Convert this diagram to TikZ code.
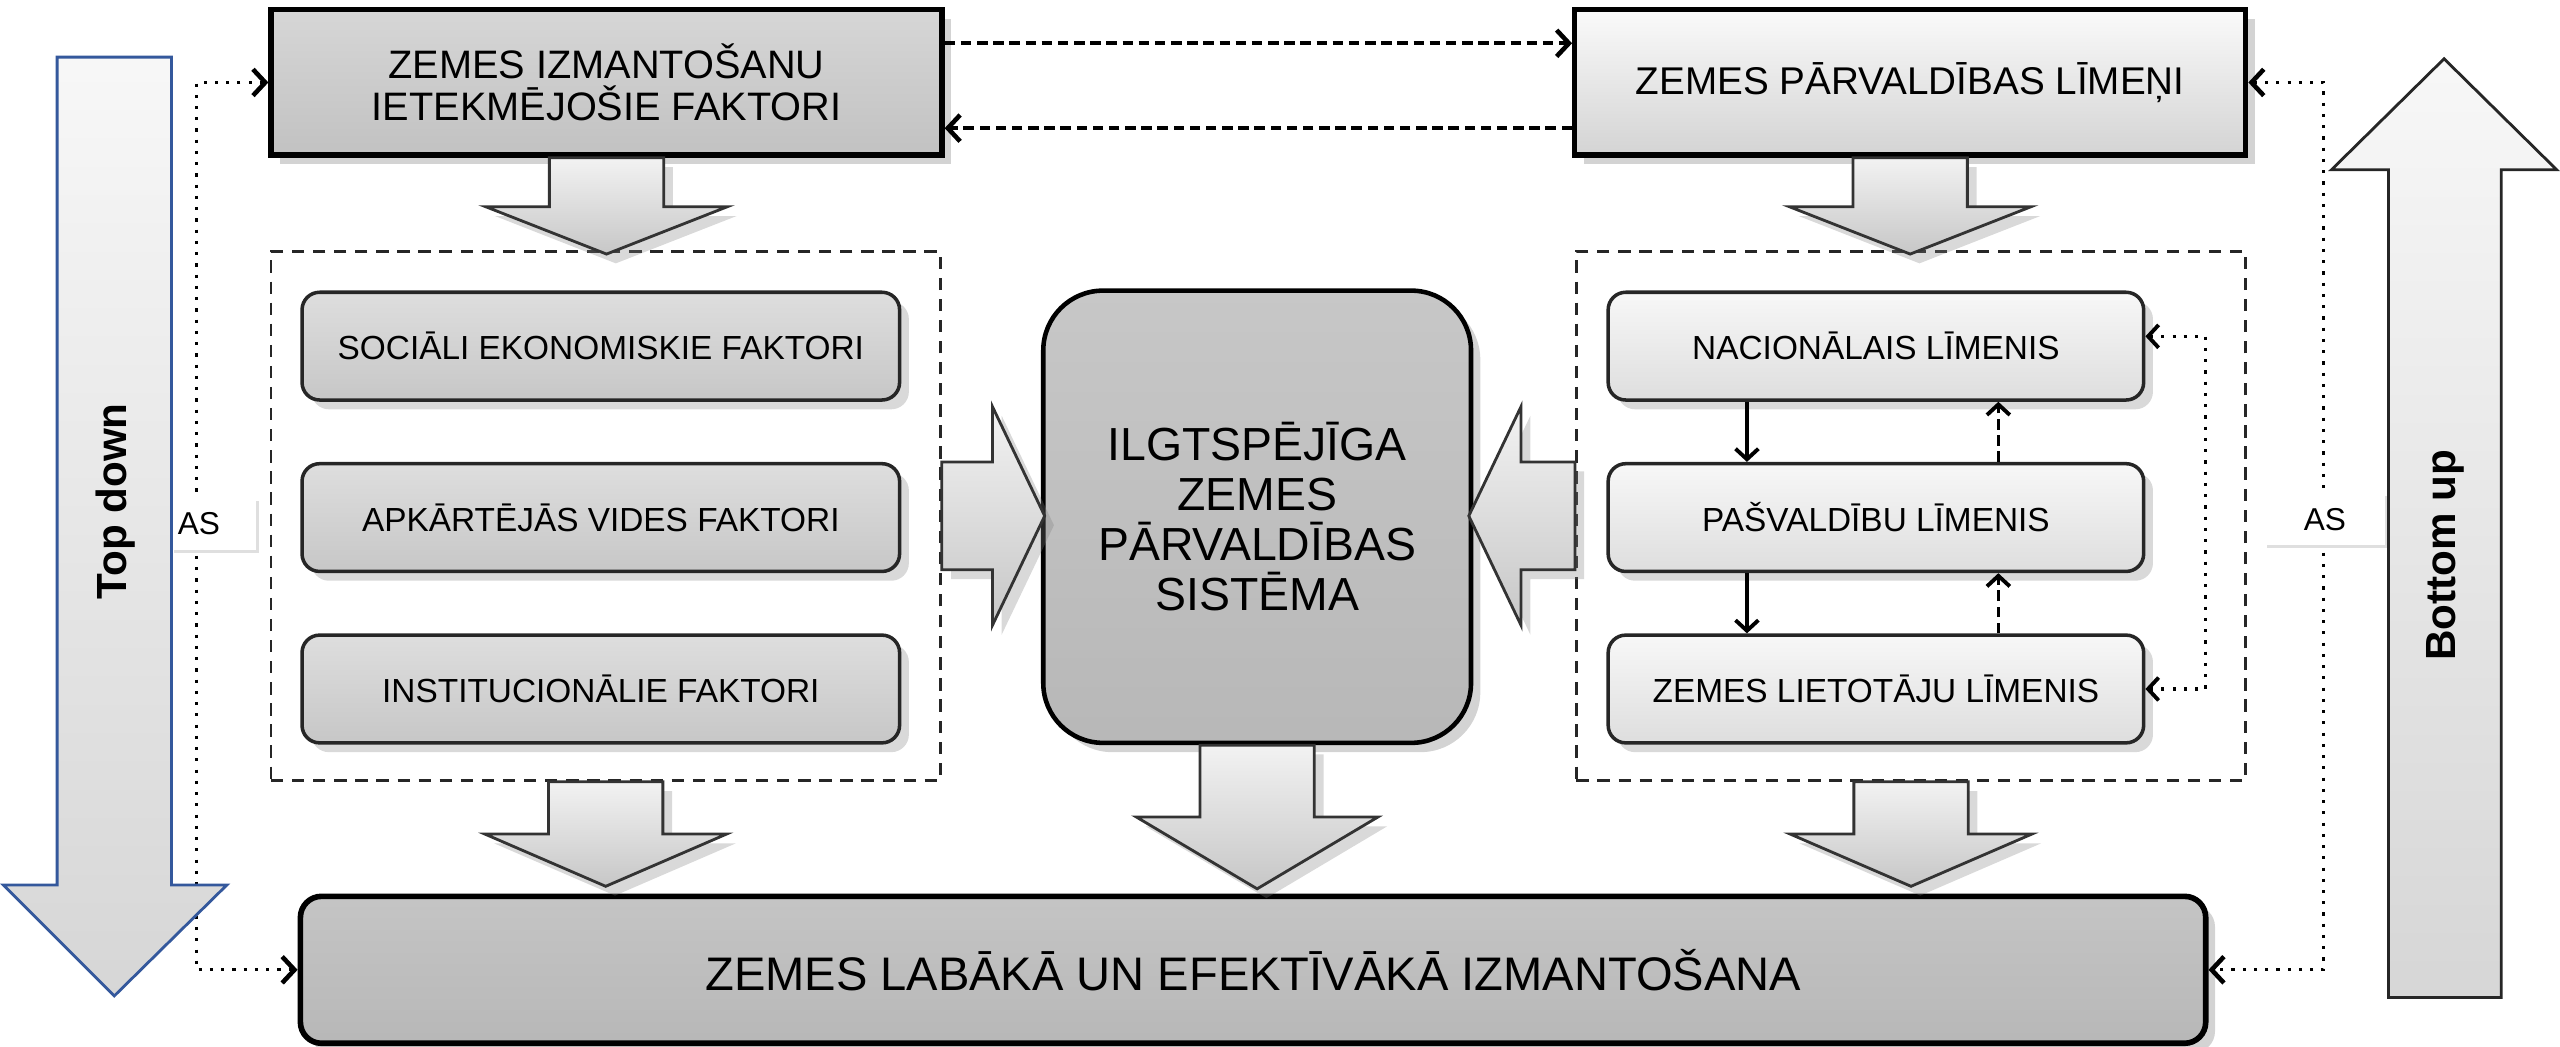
\documentclass[tikz,border=0pt]{standalone}
\usepackage{fontspec}
\setmainfont{Liberation Sans}
\usetikzlibrary{arrows.meta,calc,shadows}

\def\pxu{0.016327cm}
\definecolor{tdblue}{RGB}{52,88,156}

\tikzset{
  every node/.style={inner sep=0pt},
  chev/.style={-{Straight Barb[length=3.5pt,width=7.5pt,line width=1.3pt]}},
  twochev/.style={{Straight Barb[length=3.5pt,width=7.5pt,line width=1.3pt]}-{Straight Barb[length=3.5pt,width=7.5pt,line width=1.3pt]}},
  smallchev/.style={-{Straight Barb[length=3pt,width=6.5pt,line width=1.1pt]}},
  dotline/.style={line width=0.9pt, dash pattern=on 0.9pt off 2.3pt},
  dashline/.style={line width=1.1pt, dash pattern=on 3pt off 1.6pt},
  topbox/.style={draw=black, line width=1.5pt, minimum width=411*\pxu, minimum height=89*\pxu,
    align=center, drop shadow={opacity=0.35}},
  groupbox/.style={draw=black!85, line width=0.8pt, dash pattern=on 3.5pt off 2.5pt,
    minimum width=410*\pxu, minimum height=324*\pxu},
  factor/.style={draw=black!85, line width=1pt, rounded corners=5pt, minimum width=366*\pxu,
    minimum height=66*\pxu, top color=black!13, bottom color=black!22,
    font=\fontsize{9.5}{11}\selectfont, drop shadow={opacity=0.3}},
  level/.style={factor, minimum width=328*\pxu, top color=black!3, bottom color=black!13},
  core/.style={draw=black, line width=1.3pt, rounded corners=17pt, minimum width=262*\pxu,
    minimum height=277*\pxu, top color=black!22, bottom color=black!28, align=center,
    font=\fontsize{13.2}{14.2}\selectfont, drop shadow={opacity=0.35}},
  goal/.style={draw=black, line width=1.6pt, rounded corners=6pt, minimum width=1167*\pxu,
    minimum height=90*\pxu, top color=black!23, bottom color=black!28,
    font=\fontsize{13.4}{15}\selectfont, drop shadow={opacity=0.35}},
  block/.style={draw=black!80, line width=0.8pt, top color=black!5, bottom color=black!22,
    drop shadow={opacity=0.3}},
  bigarrow/.style={line width=0.8pt, top color=black!3, bottom color=black!16},
  aslabel/.style={fill=white, minimum height=32*\pxu, font=\fontsize{9}{10}\selectfont,
    drop shadow={opacity=0.25, shadow xshift=0.8pt, shadow yshift=-0.8pt}},
  sidetext/.style={rotate=90, font=\bfseries\fontsize{12}{14}\selectfont}
}

\begin{document}
\begin{tikzpicture}[x=\pxu, y=-\pxu]
  \useasboundingbox (0,0) rectangle (1568,641);

  % top row
  \node[topbox, top color=black!16, bottom color=black!24, font=\fontsize{11.3}{12}\selectfont] (infl) at (371.5,50.5) {ZEMES IZMANTOŠANU\\IETEKMĒJOŠIE FAKTORI};
  \node[topbox, top color=black!2, bottom color=black!17, font=\fontsize{11}{12}\selectfont] (levels) at (1170,50.5) {ZEMES PĀRVALDĪBAS LĪMEŅI};

  % dashed groups
  \node[groupbox] (lgrp) at (371,316) {};
  \node[groupbox] (rgrp) at (1170.5,316) {};

  \node[factor] (soc) at (368,212) {SOCIĀLI EKONOMISKIE FAKTORI};
  \node[factor] (env) at (368,317) {APKĀRTĒJĀS VIDES FAKTORI};
  \node[factor] (inst) at (368,422) {INSTITUCIONĀLIE FAKTORI};

  \node[level] (nat) at (1149,212) {NACIONĀLAIS LĪMENIS};
  \node[level] (mun) at (1149,317) {PAŠVALDĪBU LĪMENIS};
  \node[level] (usr) at (1149,422) {ZEMES LIETOTĀJU LĪMENIS};

  \node[core] (core) at (770,316.5) {ILGTSPĒJĪGA\\ZEMES\\PĀRVALDĪBAS\\SISTĒMA};

  \node[goal] (goal) at (767.5,594) {ZEMES LABĀKĀ UN EFEKTĪVĀKĀ IZMANTOŠANA};

  % block arrows
  \draw[block] (infl.south) ++(-35,0) -- ++(70,0) -- ++(0,30) -- ++(39,0) -- ++(-74,29) -- ++(-74,-29) -- ++(39,0) -- cycle;
  \draw[block] (levels.south) ++(-35,0) -- ++(70,0) -- ++(0,30) -- ++(39,0) -- ++(-74,29) -- ++(-74,-29) -- ++(39,0) -- cycle;
  \draw[block] (lgrp.south) ++(-35,0) -- ++(70,0) -- ++(0,32) -- ++(39,0) -- ++(-74,32) -- ++(-74,-32) -- ++(39,0) -- cycle;
  \draw[block] (rgrp.south) ++(-35,0) -- ++(70,0) -- ++(0,32) -- ++(39,0) -- ++(-74,32) -- ++(-74,-32) -- ++(39,0) -- cycle;
  \draw[block] (core.south) ++(-35,0) -- ++(70,0) -- ++(0,44) -- ++(39,0) -- ++(-74,44) -- ++(-74,-44) -- ++(39,0) -- cycle;
  \draw[block] (lgrp.east) ++(0,-33) -- ++(31,0) -- ++(0,-34) -- ++(32,67) -- ++(-32,67) -- ++(0,-34) -- ++(-31,0) -- cycle;
  \draw[block] (rgrp.west) ++(0,-33) -- ++(-33,0) -- ++(0,-34) -- ++(-32,67) -- ++(32,67) -- ++(0,-34) -- ++(33,0) -- cycle;

  % connectors
  \draw[dashline, chev] ($(infl.east)+(0,-24)$) -- ($(levels.west)+(0,-24)$);
  \draw[dashline, chev] ($(levels.west)+(0,28)$) -- ($(infl.east)+(0,28)$);
  \draw[dotline, twochev] (infl.west) -- ++(-44,0) |- (goal.west);
  \draw[dotline, twochev] (levels.east) -- ++(46,0) |- (goal.east);

  \draw[line width=1pt, smallchev] ($(nat.south)+(-79,0)$) -- ($(mun.north)+(-79,0)$);
  \draw[line width=1pt, smallchev] ($(mun.south)+(-79,0)$) -- ($(usr.north)+(-79,0)$);
  \draw[line width=1pt, dash pattern=on 3pt off 1.6pt, smallchev] ($(mun.north)+(75,0)$) -- ($(nat.south)+(75,0)$);
  \draw[line width=1pt, dash pattern=on 3pt off 1.6pt, smallchev] ($(usr.north)+(75,0)$) -- ($(mun.south)+(75,0)$);
  \draw[dotline, {Straight Barb[length=3pt,width=6.5pt,line width=1.1pt]}-{Straight Barb[length=3pt,width=6.5pt,line width=1.1pt]}] ($(nat.east)+(0,-6)$) -- ++(37,0) |- (usr.east);

  \node[aslabel, text width=0.72cm, inner xsep=4*\pxu, align=left] (asl) at (131,321) {AS};
  \node[aslabel, minimum width=74*\pxu] (asr) at (1424,318) {AS};

  % side arrows
  \draw[bigarrow, draw=tdblue] (35,35) -- (105,35) -- (105,542) -- (139,542) -- (70,610) -- (2,542) -- (35,542) -- cycle;
  \node[sidetext] (tdtext) at (71,307) {Top down};
  \draw[bigarrow, draw=black!85] (1463,611) -- (1532,611) -- (1532,104) -- (1566,104) -- (1497,36) -- (1428,104) -- (1463,104) -- cycle;
  \node[sidetext] (butext) at (1498,340) {Bottom up};
\end{tikzpicture}
\end{document}
